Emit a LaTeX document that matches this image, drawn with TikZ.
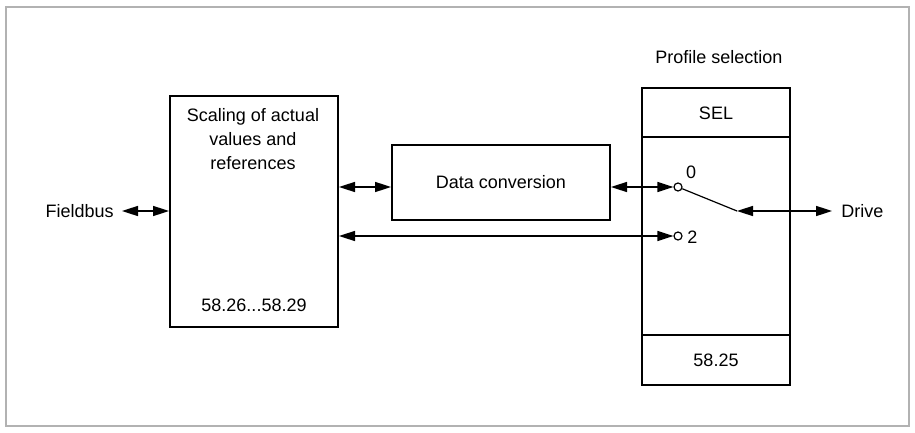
\documentclass[tikz,border=0pt]{standalone}
\usepackage{fontspec}
\setmainfont{Liberation Sans}
\usetikzlibrary{positioning,arrows.meta,calc}

\begin{document}
\begin{tikzpicture}[x=0.5pt,y=-0.5pt,font=\fontsize{9}{12}\selectfont,
  >={Triangle[length=8pt,width=5pt]},
  box/.style={draw,line width=1pt,inner sep=0pt},
  link/.style={line width=0.8pt,<->},
  term/.style={circle,draw,line width=0.6pt,fill=white,inner sep=0pt,minimum size=4pt}]
\useasboundingbox (0,0) rectangle (915,433);
\draw[black!30,line width=0.7pt] (6,7) rectangle (909,426);
% blocks
\node[box,minimum width=84pt,minimum height=115.5pt] (scale) at (254,211.5) {};
\node[align=center] (scaletxt) at (253,139) {Scaling of actual\\values and\\references};
\node (scalepar) at (254,305) {58.26...58.29};
\node[box,minimum width=109pt,minimum height=37.5pt] (dc) at (501,182.5) {Data conversion};
\node[box,minimum width=74pt,minimum height=148.5pt] (sel) at (716,236.5) {};
\draw[line width=1pt] (sel.west |- 0,137) -- (sel.east |- 0,137);
\draw[line width=1.2pt] (sel.west |- 0,335) -- (sel.east |- 0,335);
\node (seltxt) at (716,113) {SEL};
\node (selpar) at (716,360) {58.25};
\node (profile) at (719,57) {Profile selection};
% switch
\node[term] (t0) at (678,187) {};
\node[term] (t2) at (678,236) {};
\node[inner sep=0pt] (l0) at (691,172) {0};
\node[anchor=west,inner sep=0pt] (l2) at (687,237) {2};
\coordinate (pivot) at (737,211);
\draw[line width=0.6pt] (t0) -- (pivot);
% ends
\node[anchor=east,inner sep=0pt] (fieldbus) at (114,211) {Fieldbus};
\node[anchor=west,inner sep=0pt] (drive) at (841,211) {Drive};
% connections
\draw[link] ($(fieldbus.east)+(8,0)$) -- (scale.west |- fieldbus);
\draw[link] (scale.east |- t0) -- (dc.west |- t0);
\draw[link] (dc.east |- t0) -- (t0.west);
\draw[link] (scale.east |- t2) -- (t2.west);
\draw[link] (pivot) -- ($(drive.west)+(-9,0)$);
\end{tikzpicture}
\end{document}
